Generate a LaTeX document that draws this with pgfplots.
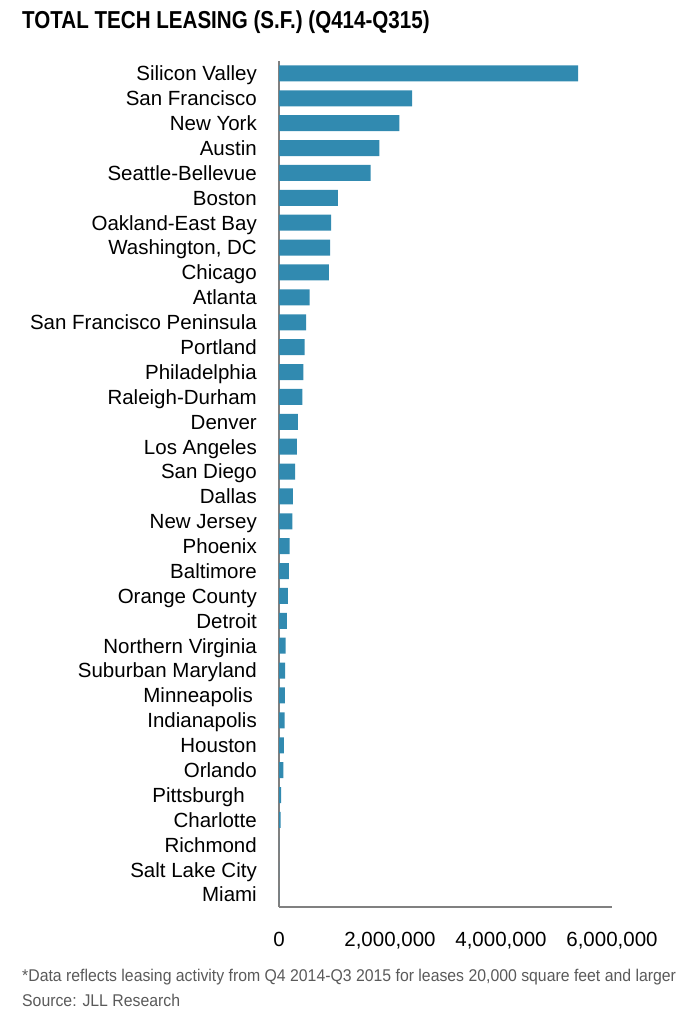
\documentclass[border=0pt]{standalone}
\usepackage{fontspec}
\setmainfont{Liberation Sans}
\usepackage{graphicx}
\usepackage{pgfplots}
\pgfplotsset{compat=1.18}
\definecolor{barblue}{RGB}{49,138,176}
\definecolor{axgray}{RGB}{128,128,128}
\definecolor{notegray}{RGB}{90,90,90}
\begin{document}
\begin{tikzpicture}[x=1pt,y=1pt]
\path[use as bounding box] (0,0) rectangle (690,1024);
\node[anchor=west,inner sep=0pt] at (22,1002) {\scalebox{0.84}[1]{\fontsize{24.5}{28}\selectfont\bfseries TOTAL TECH LEASING (S.F.) (Q414-Q315)}};
\node[anchor=west,inner sep=0pt,text=notegray] at (22,47) {\scalebox{0.93}[1]{\fontsize{17}{20}\selectfont *Data reflects leasing activity from Q4 2014-Q3 2015 for leases 20,000 square feet and larger}};
\node[anchor=west,inner sep=0pt,text=notegray] at (22,24) {\scalebox{0.93}[1]{\fontsize{17}{20}\selectfont Source: JLL Research}};
\begin{axis}[
  at={(279pt,117pt)}, anchor=south west,
  scale only axis, width=333pt, height=846pt,
  xbar, bar width=16pt,
  xmin=0, xmax=6000000, ymin=-0.5, ymax=33.5,
  axis lines*=left,
  axis line style={draw=axgray, line width=1.5pt},
  major tick length=0pt,
  xtick={0,2000000,4000000,6000000},
  scaled x ticks=false,
  /pgf/number format/.cd, fixed, precision=0, 1000 sep={,}, assume math mode=true,
  /pgfplots/.cd,
  ytick={0,...,33},
  yticklabels={Miami,Salt Lake City,Richmond,Charlotte,Pittsburgh\kern12pt,Orlando,Houston,Indianapolis,Minneapolis\kern4pt,Suburban Maryland,Northern Virginia,Detroit,Orange County,Baltimore,Phoenix,New Jersey,Dallas,San Diego,Los Angeles,Denver,Raleigh-Durham,Philadelphia,Portland,San Francisco Peninsula,Atlanta,Chicago,{Washington, DC},Oakland-East Bay,Boston,Seattle-Bellevue,Austin,New York,San Francisco,Silicon Valley},
  yticklabel style={font=\fontsize{20.5}{24}\selectfont, inner sep=0pt, xshift=-22pt, anchor=east, text height=14.7pt, text depth=0pt},
  xticklabel style={font=\fontsize{20.5}{24}\selectfont, inner sep=0pt, yshift=-25pt, text height=14.7pt, text depth=0pt},
  clip=false,
]
\addplot[fill=barblue, draw=none] coordinates {
(0,0) (0,1) (0,2) (30000,3) (40000,4) (80000,5) (90000,6) (100000,7) (105000,8) (110000,9)
(120000,10) (140000,11) (160000,12) (180000,13) (190000,14) (240000,15) (250000,16) (290000,17)
(320000,18) (340000,19) (420000,20) (440000,21) (460000,22) (490000,23) (550000,24) (900000,25)
(920000,26) (940000,27) (1060000,28) (1650000,29) (1810000,30) (2170000,31) (2400000,32) (5390000,33)
};
\end{axis}
\end{tikzpicture}
\end{document}
